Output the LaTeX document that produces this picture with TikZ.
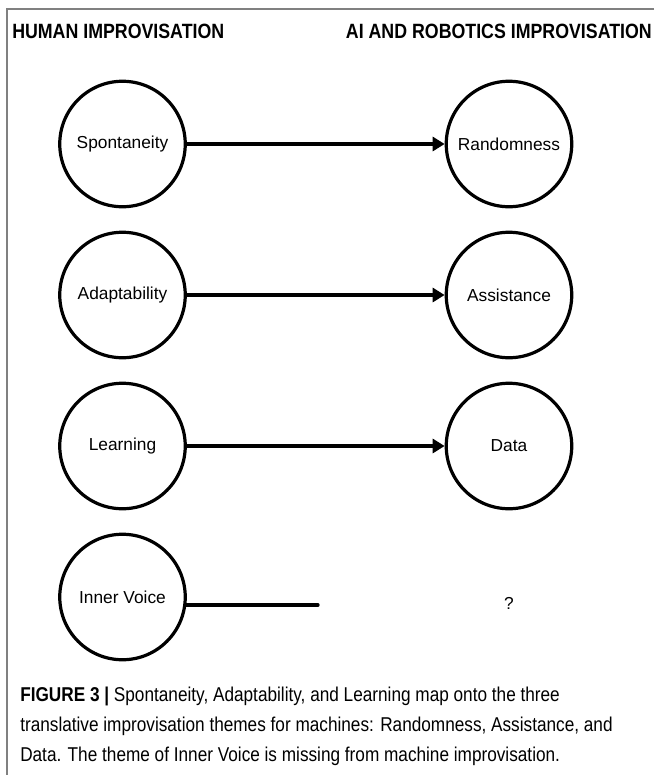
\documentclass[tikz,border=0pt]{standalone}
\usepackage{fontspec}
\setmainfont{Liberation Sans}
\newfontfamily\condfont[FakeStretch=0.86]{Liberation Sans}
\usetikzlibrary{arrows.meta}
\begin{document}
\begin{tikzpicture}[x=0.75pt,y=-0.75pt,
  theme/.style={circle,draw=black,line width=2.4pt,minimum size=125.5*0.75pt,inner sep=0pt,font=\fontsize{13}{15}\selectfont},
  maparrow/.style={line width=2.3pt,-{Triangle[length=9pt,width=10.5pt]}},
  header/.style={inner sep=0pt,font=\condfont\bfseries\fontsize{15.5}{18}\selectfont},
  capline/.style={inner sep=0pt,anchor=base west,font=\condfont\fontsize{15}{22}\selectfont},
  frameline/.style={draw=black!50,line width=1.2pt}
]
\useasboundingbox (0,0) rectangle (654,775);
\fill[white] (0,0) rectangle (654,775);
% frame
\coordinate (ftl) at (7,9);
\coordinate (ftr) at (654,9);
\coordinate (fbl) at (7,775);
\draw[frameline] (ftr) -- (ftl) -- (fbl);
% headers
\node[header,anchor=base west] (hh) at (12,38) {HUMAN IMPROVISATION};
\node[header,anchor=base east] (ha) at (652,38) {AI AND ROBOTICS IMPROVISATION};
% circles
\node[theme] (spo) at (122.5,144) {Spontaneity};
\node[theme] (ada) at (122.5,295) {Adaptability};
\node[theme] (lea) at (122.5,446) {Learning};
\node[theme] (inv) at (122.5,597) {Inner Voice};
\node[theme] (ran) at (509,144) {Randomness};
\node[theme] (ass) at (509,295) {Assistance};
\node[theme] (dat) at (509,446) {Data};
% arrows
\draw[maparrow] (spo) -- (ran);
\draw[maparrow] (ada) -- (ass);
\draw[maparrow] (lea) -- (dat);
\coordinate (ivend) at (318,605);
\draw[line width=2.5pt,line cap=round] (inv.-7 |- ivend) -- (ivend);
\node[font=\fontsize{13}{15}\selectfont] (q) at (509,603) {?};
% caption
\node[capline] (c1) at (20,701) {{\bfseries FIGURE 3 |} Spontaneity, Adaptability, and Learning map onto the three};
\node[capline] (c2) at (20,731) {translative improvisation themes for machines: Randomness, Assistance, and};
\node[capline] (c3) at (20,761) {Data. The theme of Inner Voice is missing from machine improvisation.};
\end{tikzpicture}
\end{document}
